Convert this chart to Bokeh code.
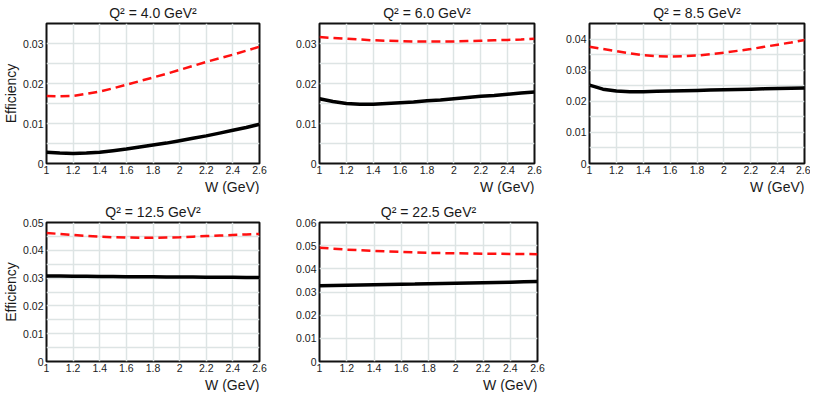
from bokeh.plotting import figure
from bokeh.models import Range1d, FixedTicker, CustomJSTickFormatter, Title
from bokeh.layouts import row, column
from bokeh.embed import file_html
from bokeh.resources import INLINE

W = [1.0, 1.1, 1.2, 1.3, 1.4, 1.5, 1.6, 1.7, 1.8, 1.9, 2.0, 2.1, 2.2, 2.3, 2.4, 2.5, 2.6]
x_ticks = [1.0, 1.2, 1.4, 1.6, 1.8, 2.0, 2.2, 2.4, 2.6]

titles = ["Q² = 4.0 GeV²", "Q² = 6.0 GeV²", "Q² = 8.5 GeV²", "Q² = 12.5 GeV²", "Q² = 22.5 GeV²"]

red_q4 = [0.0169, 0.0168, 0.0169, 0.0174, 0.0180, 0.0188, 0.0197, 0.0206, 0.0215, 0.0224, 0.0234, 0.0244, 0.0254, 0.0263, 0.0272, 0.0282, 0.0292]
blk_q4 = [0.0028, 0.0026, 0.0025, 0.0026, 0.0028, 0.0032, 0.0036, 0.0041, 0.0046, 0.0051, 0.0057, 0.0063, 0.0069, 0.0076, 0.0083, 0.0090, 0.0098]

red_q6 = [0.0316, 0.0314, 0.0312, 0.0310, 0.0308, 0.0307, 0.0306, 0.0305, 0.0305, 0.0305, 0.0305, 0.0306, 0.0307, 0.0308, 0.0309, 0.0310, 0.0312]
blk_q6 = [0.0162, 0.0155, 0.0150, 0.0148, 0.0148, 0.0150, 0.0152, 0.0154, 0.0157, 0.0159, 0.0162, 0.0165, 0.0168, 0.0170, 0.0173, 0.0176, 0.0179]

red_q85 = [0.0375, 0.0368, 0.0361, 0.0354, 0.0348, 0.0345, 0.0344, 0.0345, 0.0347, 0.0351, 0.0356, 0.0362, 0.0368, 0.0375, 0.0382, 0.0389, 0.0397]
blk_q85 = [0.0252, 0.0239, 0.0233, 0.0231, 0.0231, 0.0232, 0.0233, 0.0234, 0.0235, 0.0236, 0.0237, 0.0238, 0.0239, 0.0240, 0.0241, 0.0242, 0.0243]

red_q125 = [0.0462, 0.0459, 0.0455, 0.0452, 0.0449, 0.0447, 0.0446, 0.0445, 0.0445, 0.0446, 0.0447, 0.0449, 0.0451, 0.0453, 0.0455, 0.0457, 0.0459]
blk_q125 = [0.0308, 0.0308, 0.0307, 0.0307, 0.0306, 0.0306, 0.0305, 0.0305, 0.0305, 0.0304, 0.0304, 0.0304, 0.0303, 0.0303, 0.0303, 0.0302, 0.0302]

red_q225 = [0.0491, 0.0487, 0.0483, 0.0480, 0.0477, 0.0475, 0.0473, 0.0471, 0.0469, 0.0468, 0.0467, 0.0466, 0.0465, 0.0465, 0.0464, 0.0464, 0.0463]
blk_q225 = [0.0327, 0.0328, 0.0329, 0.0330, 0.0331, 0.0332, 0.0333, 0.0334, 0.0336, 0.0337, 0.0338, 0.0339, 0.0340, 0.0341, 0.0342, 0.0344, 0.0345]

y_ticks_35 = [0.0, 0.01, 0.02, 0.03]
y_ticks_45 = [0.0, 0.01, 0.02, 0.03, 0.04]
y_ticks_50 = [0.0, 0.01, 0.02, 0.03, 0.04, 0.05]
y_ticks_60 = [0.0, 0.01, 0.02, 0.03, 0.04, 0.05, 0.06]
grid_35 = [0.0, 0.005, 0.01, 0.015, 0.02, 0.025, 0.03, 0.035]
grid_45 = [0.0, 0.005, 0.01, 0.015, 0.02, 0.025, 0.03, 0.035, 0.04, 0.045]
grid_50 = [0.0, 0.005, 0.01, 0.015, 0.02, 0.025, 0.03, 0.035, 0.04, 0.045, 0.05]
grid_60 = [0.0, 0.01, 0.02, 0.03, 0.04, 0.05, 0.06]

FONT = "Liberation Sans"
GRID = "#dde4e4"
TXT = "#1a1a1a"


def panel(title, red, blk, ymax, yticks, ygrid, ylabel, fw, fh, bl, br, bt, bb):
    p = figure(frame_width=fw, frame_height=fh, output_backend="svg", toolbar_location=None,
               x_range=Range1d(1.0, 2.6), y_range=Range1d(0.0, ymax),
               min_border_left=bl, min_border_right=br, min_border_top=bt, min_border_bottom=bb)
    p.title.text = title
    p.title.align = "center"
    p.title.text_font = FONT
    p.title.text_font_size = "14px"
    p.title.text_font_style = "normal"
    p.title.text_color = TXT
    p.title.standoff = 5
    p.title.offset = 0

    p.outline_line_color = "#111111"
    p.outline_line_width = 2
    p.outline_line_alpha = 1

    for ax in (p.xaxis[0], p.yaxis[0]):
        ax.axis_line_color = None
        ax.major_tick_line_color = None
        ax.minor_tick_line_color = None
        ax.major_tick_out = 0
        ax.major_tick_in = 0
        ax.minor_tick_out = 0
        ax.major_label_text_font = FONT
        ax.major_label_text_font_size = "10.5px"
        ax.major_label_text_color = TXT

    p.xaxis.ticker = FixedTicker(ticks=x_ticks)
    p.xaxis.formatter = CustomJSTickFormatter(code="return tick.toFixed(1).replace(/\\.0$/, '');")
    p.xaxis.major_label_standoff = 2
    p.yaxis.ticker = FixedTicker(ticks=yticks)
    p.yaxis.formatter = CustomJSTickFormatter(code="return Math.abs(tick) < 1e-9 ? '0' : tick.toFixed(2);")
    p.yaxis.major_label_standoff = 3
    if ylabel:
        p.yaxis.axis_label = "Efficiency"
        p.yaxis.axis_label_text_font = FONT
        p.yaxis.axis_label_text_font_size = "14px"
        p.yaxis.axis_label_text_font_style = "normal"
        p.yaxis.axis_label_text_color = TXT
        p.yaxis.axis_label_standoff = 1

    p.xgrid.ticker = FixedTicker(ticks=x_ticks)
    p.ygrid.ticker = FixedTicker(ticks=ygrid)
    p.xgrid.grid_line_color = GRID
    p.ygrid.grid_line_color = GRID
    p.xgrid.grid_line_width = 1.5
    p.ygrid.grid_line_width = 1.5

    xt = Title(text="W (GeV)", align="right", text_font=FONT, text_font_size="14px",
               text_font_style="normal", text_color=TXT, standoff=0, offset=0)
    p.add_layout(xt, "below")

    p.line(W, red, line_color="#ff1010", line_width=2.5, line_dash="9 5")
    p.line(W, blk, line_color="black", line_width=3.5)
    return p


p1 = panel(titles[0], red_q4, blk_q4, 0.035, y_ticks_35, grid_35, True, 213, 140, 38, 34, 17, 30)
p2 = panel(titles[1], red_q6, blk_q6, 0.035, y_ticks_35, grid_35, False, 215, 140, 26, 29, 17, 30)
p3 = panel(titles[2], red_q85, blk_q85, 0.045, y_ticks_45, grid_45, False, 215, 140, 26, 6, 17, 30)
p4 = panel(titles[3], red_q125, blk_q125, 0.05, y_ticks_50, grid_50, True, 213, 139, 38, 34, 28, 27)
p5 = panel(titles[4], red_q225, blk_q225, 0.06, y_ticks_60, grid_60, False, 218, 139, 22, 20, 28, 27)

layout = column(row(p1, p2, p3, spacing=0), row(p4, p5, spacing=0), spacing=0)

open("out.html", "w").write(file_html(layout, INLINE))
